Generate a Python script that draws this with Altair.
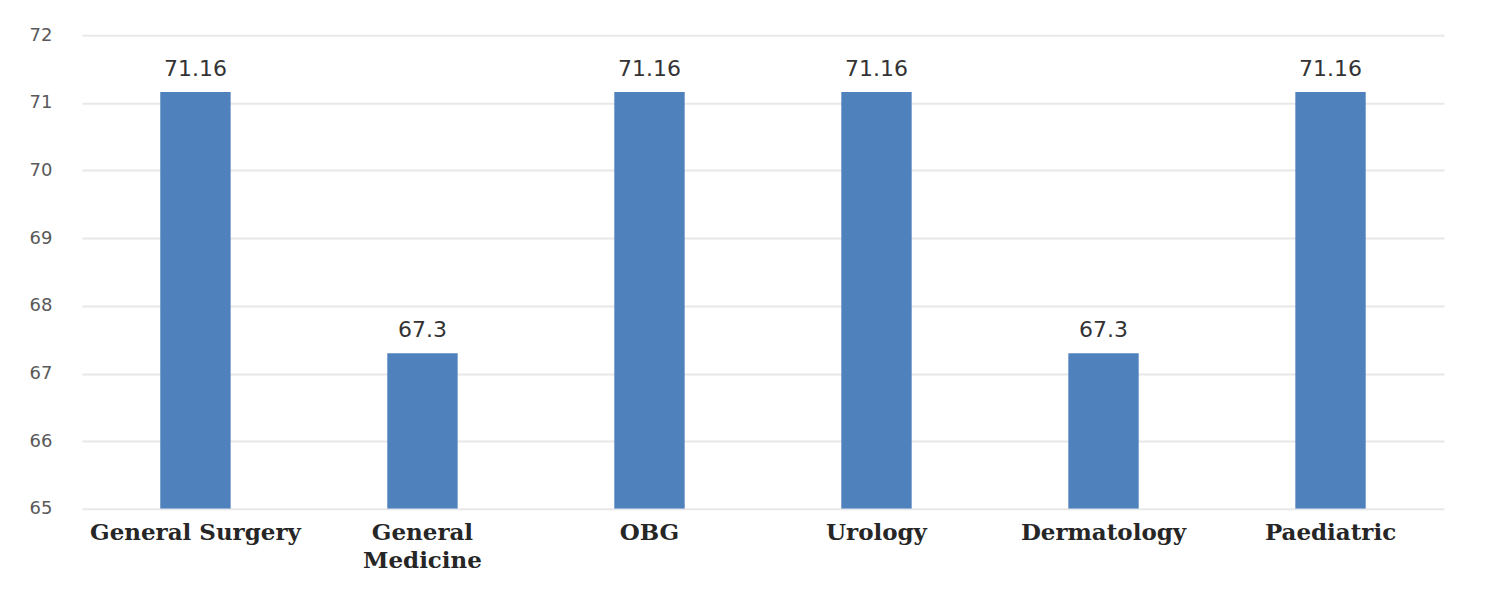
import altair as alt
import pandas as pd

categories = ["General Surgery", "General Medicine", "OBG", "Urology", "Dermatology", "Paediatric"]
values = [71.16, 67.3, 71.16, 71.16, 67.3, 71.16]
labels = ["71.16", "67.3", "71.16", "71.16", "67.3", "71.16"]

df = pd.DataFrame({"category": categories, "value": values, "label": labels})

x = alt.X("category:N", sort=categories, title=None,
          scale=alt.Scale(paddingInner=0.69, paddingOuter=0.345),
          axis=alt.Axis(labelAngle=0, labelFont="DejaVu Serif", labelFontSize=23,
                        labelFontWeight="bold", labelColor="#262626", domain=False,
                        ticks=False, labelPadding=13, labelLineHeight=28, labelLimit=0,
                        labelExpr="datum.value == 'General Medicine' ? ['General', 'Medicine'] : datum.label"))
y = alt.Y("value:Q", title=None,
          scale=alt.Scale(domain=[65, 72], nice=False, zero=False),
          axis=alt.Axis(values=[65, 66, 67, 68, 69, 70, 71, 72], domain=False, ticks=False,
                        labelFont="DejaVu Sans", labelFontSize=18, labelColor="#595959",
                        labelPadding=30, gridColor="#e8e8e8", gridWidth=2))

bars = alt.Chart(df).mark_bar(color="#4f81bd", clip=True).encode(x=x, y=y, y2=alt.datum(65))
text = alt.Chart(df).mark_text(baseline="bottom", dy=-11, font="DejaVu Sans", fontSize=22,
                               color="#333333").encode(x=x, y=y, text="label:N")

chart = (bars + text).properties(
    width=1363, height=474,
    autosize=alt.AutoSizeParams(type="none"),
    padding={"left": 74, "top": 27, "right": 40, "bottom": 90},
).configure_view(stroke=None)

chart.save("out.html", embed_options={"renderer": "svg", "actions": False})
